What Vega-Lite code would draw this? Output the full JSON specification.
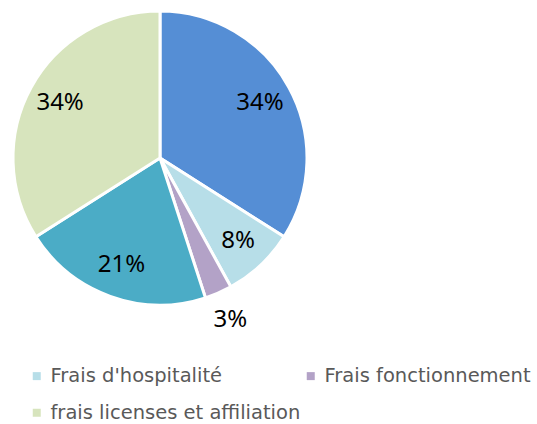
{
  "$schema": "https://vega.github.io/schema/vega-lite/v6.json",
  "width": 320,
  "height": 316,
  "autosize": "none",
  "padding": {"left": 0, "top": 0, "right": 217, "bottom": 108},
  "background": "white",
  "view": {"stroke": null},
  "data": {
    "values": [
      {"cat": "Frais de déplacement", "val": 34, "rang": 1},
      {"cat": "Frais d'hospitalité", "val": 8, "rang": 2},
      {"cat": "Frais fonctionnement", "val": 3, "rang": 3},
      {"cat": "Frais d'arbitrage", "val": 21, "rang": 4},
      {"cat": "frais licenses et affiliation", "val": 34, "rang": 5}
    ]
  },
  "transform": [{"calculate": "datum.val + '%'", "as": "label"}],
  "encoding": {
    "theta": {"field": "val", "type": "quantitative", "stack": true},
    "order": {"field": "rang", "type": "quantitative"}
  },
  "layer": [
    {
      "mark": {"type": "arc", "outerRadius": 147, "stroke": "white", "strokeWidth": 3},
      "encoding": {
        "color": {
          "field": "cat",
          "type": "nominal",
          "scale": {
            "domain": ["Frais de déplacement", "Frais d'hospitalité", "Frais fonctionnement", "Frais d'arbitrage", "frais licenses et affiliation"],
            "range": ["#558ED5", "#B7DEE8", "#B3A2C7", "#4BACC6", "#D7E4BD"]
          },
          "legend": {
            "values": ["Frais d'hospitalité", "frais licenses et affiliation", "Frais fonctionnement"],
            "orient": "none",
            "legendX": 27,
            "legendY": 366,
            "columns": 2,
            "title": null,
            "padding": 0,
            "symbolType": "square",
            "symbolSize": 64,
            "symbolStrokeWidth": 0,
            "labelFont": "DejaVu Sans",
            "labelFontSize": 19.5,
            "labelColor": "#595959",
            "labelOffset": 4,
            "labelLimit": 400,
            "rowPadding": 16,
            "columnPadding": 0
          }
        }
      }
    },
    {
      "mark": {"type": "text", "radius": 114, "font": "Noto Sans", "fontSize": 24, "color": "black"},
      "encoding": {
        "text": {"condition": {"test": "datum.val < 5", "value": ""}, "field": "label"}
      }
    },
    {
      "mark": {"type": "text", "radius": 177, "font": "Noto Sans", "fontSize": 24, "color": "black"},
      "encoding": {
        "text": {"condition": {"test": "datum.val >= 5", "value": ""}, "field": "label"}
      }
    }
  ]
}
